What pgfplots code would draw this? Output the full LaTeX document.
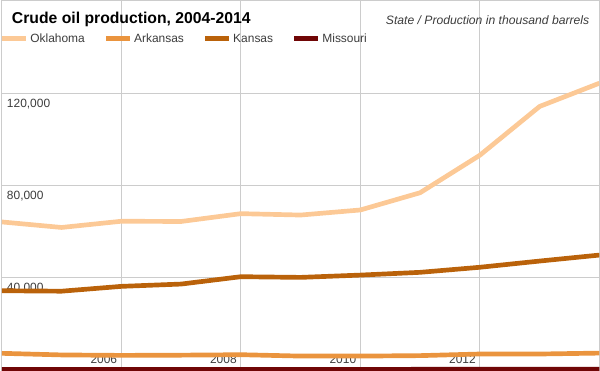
\documentclass[border=0pt]{standalone}
\usepackage{fontspec}
\setmainfont{Liberation Sans}
\usepackage{pgfplots}
\pgfplotsset{compat=1.18}
\definecolor{gridc}{RGB}{204,204,204}
\definecolor{okla}{RGB}{252,201,150}
\definecolor{arka}{RGB}{234,148,62}
\definecolor{kans}{RGB}{186,98,10}
\definecolor{miss}{RGB}{112,6,6}
\definecolor{txt}{RGB}{60,60,60}
\begin{document}
\begin{tikzpicture}
\begin{axis}[
  scale only axis, width=600bp, height=371bp,
  xmin=2004, xmax=2014, ymin=-200, ymax=160400,
  scaled y ticks=false, scaled x ticks=false,
  axis line style={draw=gridc, line width=1bp},
  xtick={2006,2008,2010,2012},
  xticklabels={2006,2008,2010,2012},
  ytick={40000,80000,120000},
  yticklabels={{40,000},{80,000},{120,000}},
  grid=major, major grid style={draw=gridc, line width=1.2bp},
  major tick length=0pt,
  tick label style={font=\fontsize{12bp}{14bp}\selectfont, text=txt, inner sep=0pt},
  xticklabel style={anchor=base east, xshift=-4bp, yshift=7bp},
  yticklabel style={anchor=north west, xshift=5bp, yshift=-5bp},
  legend style={at={(0,1)}, anchor=north west, xshift=-2bp, yshift=-31bp, draw=none, fill=none,
    font=\fontsize{12bp}{14bp}\selectfont, text=txt, inner sep=0pt,
    /tikz/every even column/.append style={column sep=17bp}},
  legend columns=-1,
  legend cell align=left,
  legend image code/.code={\draw[#1, line width=4.5bp] (0bp,0bp) -- (24bp,0bp);},
  every axis plot/.append style={line width=4.7bp, line join=round},
]
\addplot[okla, mark=none] coordinates {
 (2004,64200) (2005,61800) (2006,64500) (2007,64400) (2008,67800) (2009,67200)
 (2010,69400) (2011,76900) (2012,93200) (2013,114400) (2014,124500)};
\addlegendentry{Oklahoma}
\addplot[arka, mark=none] coordinates {
 (2004,7100) (2005,6400) (2006,6200) (2007,6300) (2008,6500) (2009,5900)
 (2010,5900) (2011,6100) (2012,6800) (2013,6800) (2014,7200)};
\addlegendentry{Arkansas}
\addplot[kans, mark=none] coordinates {
 (2004,34300) (2005,34100) (2006,36200) (2007,37200) (2008,40400) (2009,40100)
 (2010,41100) (2011,42300) (2012,44500) (2013,47200) (2014,49800)};
\addlegendentry{Kansas}
\addplot[miss, mark=none] coordinates {
 (2004,90) (2005,85) (2006,90) (2007,100) (2008,110) (2009,120)
 (2010,130) (2011,140) (2012,150) (2013,160) (2014,170)};
\addlegendentry{Missouri}
\node[anchor=base west, font=\fontsize{15.8bp}{18bp}\selectfont\bfseries, inner sep=0pt]
  at (rel axis cs:0,1) [xshift=10bp, yshift=-22.5bp] {Crude oil production, 2004-2014};
\node[anchor=base east, font=\fontsize{12.2bp}{14bp}\selectfont\itshape, text=txt, inner sep=0pt]
  at (rel axis cs:1,1) [xshift=-10bp, yshift=-24bp] {State / Production in thousand barrels};
\end{axis}
\end{tikzpicture}
\end{document}
